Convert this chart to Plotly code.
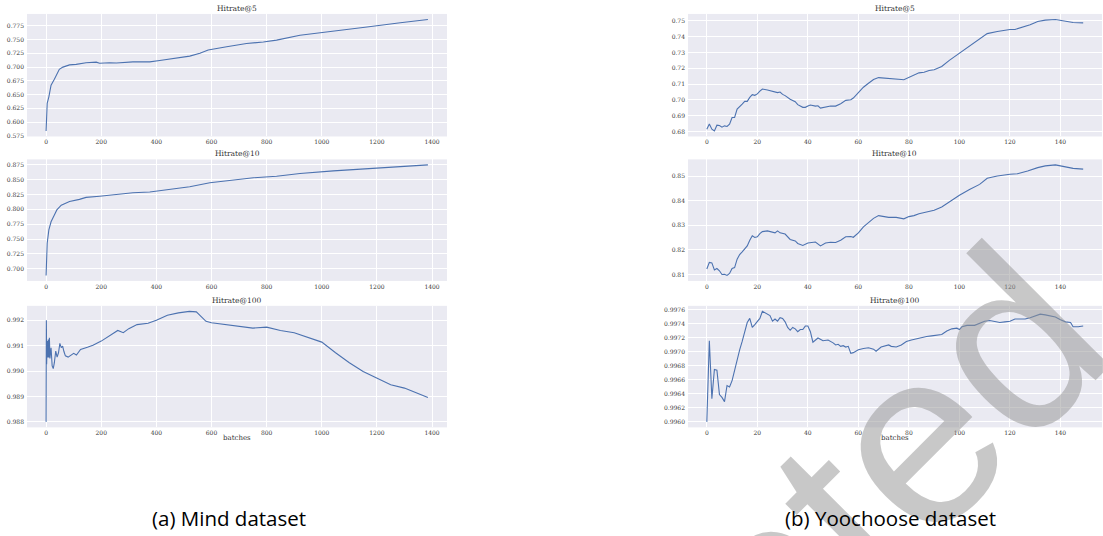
import plotly.graph_objects as go

# ---------------- Mind dataset (batches 0..1385) ----------------
mind_h5_x = [0, 4, 10, 18, 30, 39, 48, 61, 73, 85, 109, 145, 182, 194, 230, 255, 315, 376,
             412, 461, 521, 558, 588, 655, 727, 788, 836, 921, 1042, 1164, 1285, 1385]
mind_h5_y = [0.584, 0.634, 0.646, 0.667, 0.678, 0.688, 0.696, 0.700, 0.702, 0.704, 0.705,
             0.708, 0.709, 0.707, 0.708, 0.7075, 0.7095, 0.7095, 0.712, 0.7155, 0.720, 0.725,
             0.731, 0.737, 0.743, 0.7455, 0.749, 0.758, 0.766, 0.773, 0.7805, 0.7865]

mind_h10_x = [0, 4, 10, 18, 30, 39, 55, 73, 85, 121, 145, 194, 255, 315, 376, 436, 521, 594,
              679, 752, 836, 921, 1042, 1164, 1285, 1385]
mind_h10_y = [0.689, 0.743, 0.7655, 0.779, 0.7905, 0.799, 0.807, 0.810, 0.813, 0.8167, 0.820,
              0.822, 0.825, 0.8278, 0.829, 0.833, 0.838, 0.8445, 0.849, 0.853, 0.8555, 0.860,
              0.8645, 0.8678, 0.871, 0.8745]

mind_h100_x = [0, 1, 2, 4, 6, 8, 10, 12, 14, 18, 22, 26, 30, 35, 40, 45, 50, 55, 60, 65, 70,
               80, 90, 100, 110, 125, 150, 170, 200, 240, 260, 280, 300, 330, 370, 400, 440,
               480, 520, 545, 560, 580, 600, 650, 700, 750, 800, 850, 900, 950, 1000, 1050,
               1100, 1150, 1200, 1250, 1300, 1350, 1385]
mind_h100_y = [0.9880, 0.9920, 0.99027, 0.99118, 0.99053, 0.99124, 0.99053, 0.99131, 0.9905,
               0.99092, 0.9902, 0.9901, 0.99033, 0.99079, 0.99055, 0.99072, 0.99109, 0.99092,
               0.99098, 0.99076, 0.9906, 0.99055, 0.99062, 0.9907, 0.99063, 0.99085, 0.99094,
               0.99102, 0.99118, 0.99147, 0.9916, 0.99151, 0.99167, 0.99183, 0.99188, 0.9920,
               0.9922, 0.99229, 0.99235, 0.99233, 0.99216, 0.99196, 0.9919, 0.99183, 0.99177,
               0.99169, 0.99173, 0.9916, 0.99151, 0.99131, 0.99114, 0.99072, 0.99033, 0.98998,
               0.98972, 0.98946, 0.98933, 0.98912, 0.98896]

# ---------------- Yoochoose dataset (batches 0..149) ----------------
yoo_h5_x = [0, 1, 2, 3, 4, 5, 6, 7, 8, 9, 10, 11, 12, 13, 14, 15, 16, 17, 18, 19, 20, 21, 22,
            24, 26, 28, 29, 30, 31, 33, 35, 36, 38, 39, 40, 41, 43, 44, 45, 47, 49, 51, 53, 55,
            57, 58, 60, 62, 64, 66, 68, 70, 72, 75, 77, 78, 80, 82, 84, 86, 88, 90, 93, 96,
            100, 104, 108, 111, 115, 120, 122, 126, 128, 131, 134, 138, 141, 145, 149]
yoo_h5_y = [0.6815, 0.6847, 0.6815, 0.6804, 0.6840, 0.6838, 0.6828, 0.6836, 0.6832, 0.6847,
            0.6889, 0.6889, 0.6942, 0.6961, 0.6974, 0.6991, 0.6991, 0.7016, 0.7033, 0.7029,
            0.7038, 0.7055, 0.7069, 0.7063, 0.7055, 0.7046, 0.7050, 0.7035, 0.7027, 0.7004,
            0.6989, 0.6970, 0.6953, 0.6953, 0.6961, 0.6968, 0.6961, 0.6963, 0.6948, 0.6953,
            0.6961, 0.6961, 0.6976, 0.6997, 0.7001, 0.7012, 0.7048, 0.7080, 0.7105, 0.7129,
            0.7141, 0.7139, 0.7137, 0.7135, 0.7129, 0.7127, 0.7141, 0.7152, 0.7171, 0.7175,
            0.7186, 0.7190, 0.7211, 0.7250, 0.7296, 0.7341, 0.7385, 0.7419, 0.7432, 0.7445,
            0.7445, 0.7466, 0.7475, 0.7496, 0.7504, 0.7508, 0.7500, 0.7489, 0.7487]

yoo_h10_x = [0, 1, 2, 3, 4, 5, 6, 7, 8, 9, 10, 11, 12, 13, 14, 15, 16, 17, 18, 19, 20, 21, 22,
             24, 25, 26, 27, 28, 29, 31, 33, 35, 36, 38, 40, 43, 45, 47, 49, 51, 53, 55, 57,
             58, 60, 62, 64, 66, 68, 70, 72, 75, 78, 80, 82, 84, 87, 90, 93, 96, 100, 104,
             108, 111, 115, 120, 123, 127, 131, 134, 138, 141, 145, 149]
yoo_h10_y = [0.8122, 0.8149, 0.8147, 0.8118, 0.8124, 0.8115, 0.8100, 0.8101, 0.8096, 0.8104,
             0.8124, 0.8128, 0.8162, 0.8181, 0.8192, 0.8205, 0.8216, 0.8239, 0.8257, 0.8250,
             0.8253, 0.8266, 0.8274, 0.8277, 0.8274, 0.8269, 0.8269, 0.8277, 0.8269, 0.8264,
             0.8242, 0.8236, 0.8226, 0.8218, 0.8228, 0.8232, 0.8216, 0.8228, 0.8231, 0.8230,
             0.8239, 0.8253, 0.8254, 0.8251, 0.8269, 0.8293, 0.8309, 0.8328, 0.8339, 0.8336,
             0.8332, 0.8332, 0.8326, 0.8335, 0.8339, 0.8347, 0.8354, 0.8361, 0.8374, 0.8395,
             0.8422, 0.8445, 0.8466, 0.8491, 0.8500, 0.8507, 0.8509, 0.8520, 0.8534, 0.8541,
             0.8545, 0.8539, 0.8531, 0.8528]

yoo_h100_x = [0, 1, 2, 3, 4, 5, 6, 7, 8, 9, 10, 11, 12, 13, 14, 15, 16, 17, 18, 19, 20, 21,
              22, 23, 24, 25, 26, 27, 28, 29, 30, 31, 32, 33, 34, 35, 36, 37, 38, 39, 40, 41,
              42, 43, 44, 46, 48, 50, 51, 52, 53, 54, 55, 56, 57, 58, 60, 62, 64, 66, 67, 69,
              71, 72, 73, 75, 77, 79, 81, 83, 85, 87, 89, 91, 93, 95, 97, 99, 100, 101, 103,
              106, 108, 110, 112, 114, 116, 118, 120, 122, 124, 126, 128, 130, 132, 134, 136,
              138, 140, 142, 144, 145, 147, 149]
yoo_h100_y = [0.99600, 0.99716, 0.99633, 0.99675, 0.99674, 0.99639, 0.99635, 0.99629, 0.99652,
              0.99650, 0.99659, 0.99675, 0.99688, 0.99703, 0.99715, 0.99729, 0.99742, 0.99748,
              0.99735, 0.99739, 0.99744, 0.99748, 0.99758, 0.99756, 0.99754, 0.99752, 0.99744,
              0.99747, 0.99744, 0.99749, 0.99748, 0.99743, 0.99735, 0.99731, 0.99735, 0.99733,
              0.99729, 0.99732, 0.99732, 0.99737, 0.99737, 0.99729, 0.99714, 0.99717, 0.99720,
              0.99716, 0.99717, 0.99713, 0.99710, 0.99711, 0.99708, 0.99709, 0.99707, 0.99708,
              0.99698, 0.99699, 0.99703, 0.99705, 0.99706, 0.99704, 0.99701, 0.99707, 0.99709,
              0.99710, 0.99708, 0.99707, 0.99710, 0.99715, 0.99717, 0.99719, 0.99720, 0.99722,
              0.99723, 0.99724, 0.99725, 0.99730, 0.99733, 0.99734, 0.99732, 0.99736, 0.99738,
              0.99738, 0.99741, 0.99744, 0.99745, 0.99743, 0.99742, 0.99743, 0.99744, 0.99747,
              0.99747, 0.99747, 0.99749, 0.99751, 0.99754, 0.99753, 0.99751, 0.99750, 0.99746,
              0.99743, 0.99742, 0.99736, 0.99736, 0.99737]

panel_titles = ["Hitrate@5", "Hitrate@10", "Hitrate@100"]
captions = ["(a) Mind dataset", "(b) Yoochoose dataset"]
x_label = "batches"
watermark = "Accepted"

W, H = 1103, 536
LINE = "#4C72B0"
BG = "#EAEAF2"

# pixel boxes of the plot areas: (left, right) per column, (top, bottom) per row
cols_px = [(27, 447), (688, 1102)]
rows_px = [(14, 137), (160, 282), (307, 429)]

panels = [
    # (col, row, xs, ys, x dtick, y dtick, y format)
    (0, 0, mind_h5_x, mind_h5_y, 200, 0.025, ".3f"),
    (0, 1, mind_h10_x, mind_h10_y, 200, 0.025, ".3f"),
    (0, 2, mind_h100_x, mind_h100_y, 200, 0.001, ".3f"),
    (1, 0, yoo_h5_x, yoo_h5_y, 20, 0.01, ".2f"),
    (1, 1, yoo_h10_x, yoo_h10_y, 20, 0.01, ".2f"),
    (1, 2, yoo_h100_x, yoo_h100_y, 20, 0.0002, ".4f"),
]


def padded(lo, hi, frac=0.05):
    span = hi - lo
    return [lo - span * frac, hi + span * frac]


fig = go.Figure()
layout = {}
annotations = []
tick_font = dict(family="DejaVu Serif", size=6, color="#3a3a3a")

for i, (c, r, xs, ys, xdt, ydt, yfmt) in enumerate(panels, start=1):
    sfx = "" if i == 1 else str(i)
    l, rgt = cols_px[c]
    t, b = rows_px[r]
    xdom = [l / W, rgt / W]
    ydom = [1 - b / H, 1 - t / H]
    fig.add_trace(go.Scatter(x=xs, y=ys, mode="lines", line=dict(color=LINE, width=1.1),
                             xaxis="x" + sfx, yaxis="y" + sfx, showlegend=False,
                             hoverinfo="skip"))
    layout["xaxis" + sfx] = dict(domain=xdom, anchor="y" + sfx, range=padded(min(xs), max(xs)),
                                 dtick=xdt, tick0=0, showgrid=True, gridcolor="white",
                                 gridwidth=1.2, zeroline=False, showline=False,
                                 tickfont=tick_font, ticks="", ticklabelstandoff=1)
    layout["yaxis" + sfx] = dict(domain=ydom, anchor="x" + sfx, range=padded(min(ys), max(ys)),
                                 dtick=ydt, tick0=0, tickformat=yfmt, showgrid=True,
                                 gridcolor="white", gridwidth=1.2, zeroline=False,
                                 showline=False, tickfont=tick_font, ticks="",
                                 ticklabelstandoff=2)
    annotations.append(dict(text=panel_titles[r], xref="paper", yref="paper",
                            x=(l + rgt) / 2 / W, y=1 - t / H, xanchor="center",
                            yanchor="bottom", showarrow=False, yshift=-1,
                            font=dict(family="DejaVu Serif", size=7.5, color="#333333")))
    if r == 2:
        annotations.append(dict(text=x_label, xref="paper", yref="paper",
                                x=(l + rgt) / 2 / W, y=1 - 440 / H, xanchor="center",
                                yanchor="middle", showarrow=False,
                                font=dict(family="DejaVu Serif", size=7, color="#333333")))

# large diagonal watermark
annotations.append(dict(text=watermark, xref="paper", yref="paper", x=692 / W, y=1 - 664 / H,
                        xanchor="center", yanchor="middle", showarrow=False, textangle=-45,
                        font=dict(family="Liberation Sans", size=250,
                                  color="rgba(150,150,150,0.52)")))

# sub-figure captions
for cx, txt in zip([229, 890], captions):
    annotations.append(dict(text=txt, xref="paper", yref="paper", x=cx / W, y=1 - 520 / H,
                            xanchor="center", yanchor="middle", showarrow=False,
                            font=dict(family="Open Sans", size=20.5, color="black")))

fig.update_layout(width=W, height=H, margin=dict(l=0, r=0, t=0, b=0),
                  paper_bgcolor="white", plot_bgcolor=BG, annotations=annotations,
                  **layout)

fig.write_html("out.html")
